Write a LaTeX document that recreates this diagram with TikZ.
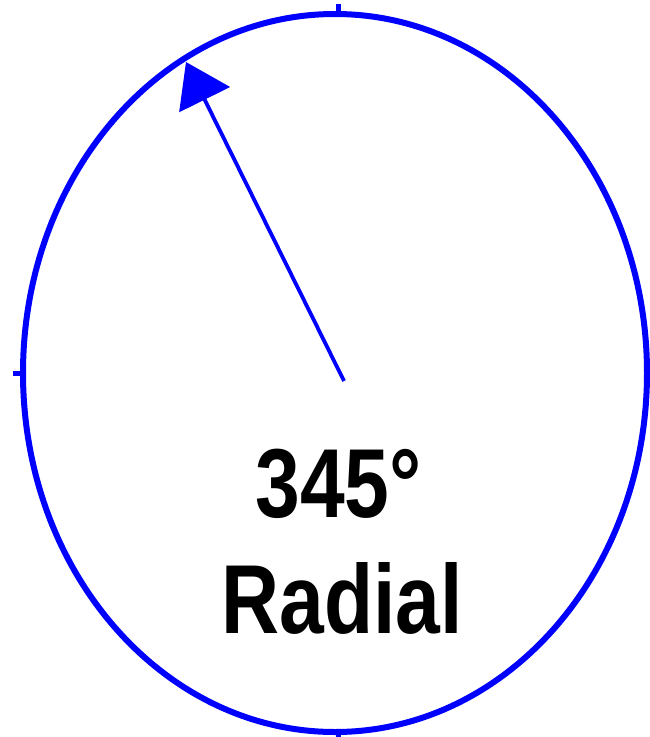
\documentclass[tikz,border=0pt]{standalone}
\usepackage{fontspec}
\setmainfont{Liberation Sans}
\usetikzlibrary{arrows.meta}
\definecolor{dialblue}{RGB}{0,0,255}
\tikzset{
  dial/.style={draw=dialblue, line width=6pt},
  tickmark/.style={draw=dialblue, line width=5pt},
  pointer/.style={draw=dialblue, line width=3.8pt, -{Triangle[length=42pt,width=56pt]}, fill=dialblue},
  bigtext/.style={font=\fontsize{98}{110}\selectfont\bfseries, text=black, anchor=base, inner sep=0pt}
}
\begin{document}
\begin{tikzpicture}[x=1pt,y=-1pt]
\useasboundingbox (0,0) rectangle (650,737);
\coordinate (c) at (335,373);
\draw[dial] (c) ellipse [x radius=312, y radius=359];
\coordinate (t1) at (338,17); \coordinate (t1e) at (338,4);
\coordinate (t2) at (23,373); \coordinate (t2e) at (13,373);
\coordinate (t3) at (338,730); \coordinate (t3e) at (338,740);
\draw[tickmark] (t1) -- (t1e);
\draw[tickmark] (t2) -- (t2e);
\draw[tickmark] (t3) -- (t3e);
\coordinate (ps) at (344,381);
\coordinate (pe) at (186,62);
\draw[pointer] (ps) -- (pe);
\node[bigtext] (deg) at (338.5,517) {\scalebox{0.82}[1]{345°}};
\node[bigtext] (rad) at (342,633) {\scalebox{0.82}[1]{Radial}};
\end{tikzpicture}
\end{document}
